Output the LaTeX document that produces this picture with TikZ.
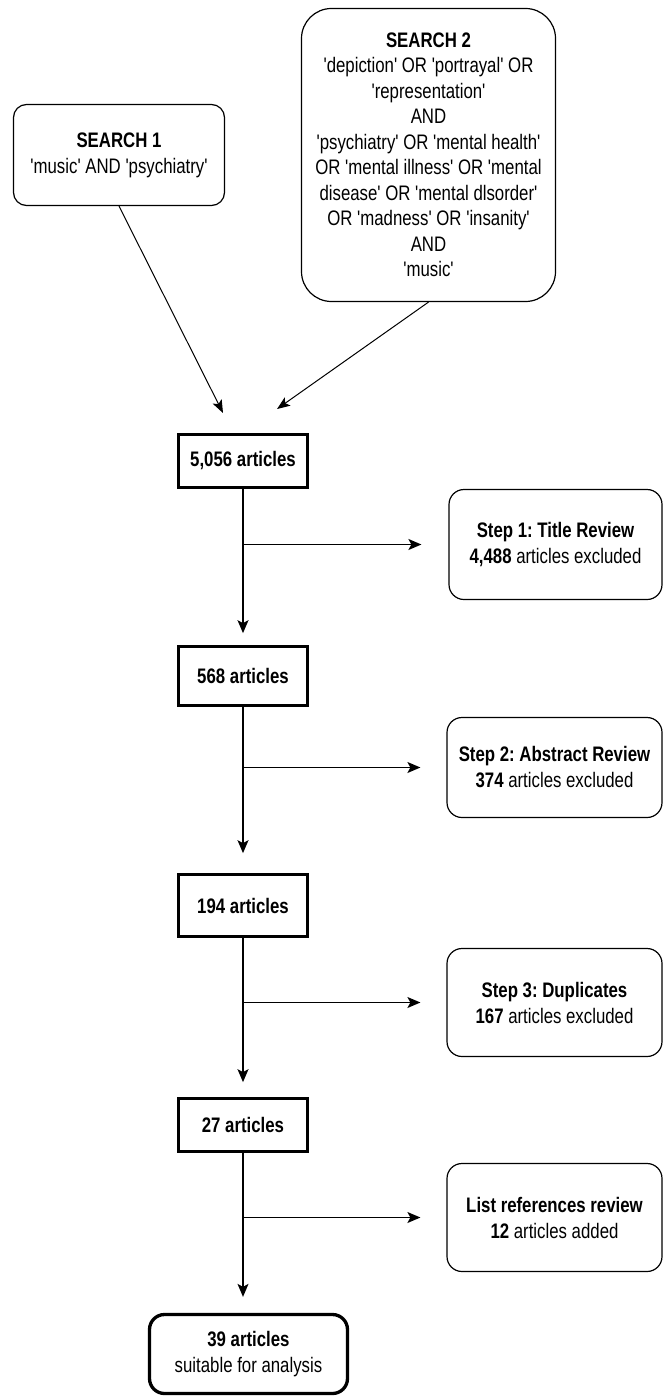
\documentclass[tikz,border=0pt]{standalone}
\usepackage{fontspec}
\setmainfont{Liberation Sans}[FakeStretch=0.8,Ligatures=TeXOff]
\usetikzlibrary{arrows.meta}
\frenchspacing
\begin{document}
\begin{tikzpicture}[x=1pt,y=-1pt,
  every node/.style={inner sep=0pt,align=center,font=\frenchspacing\fontsize{21}{26}\selectfont},
  search/.style={draw,line width=1.2pt,rounded corners=13pt},
  countbox/.style={draw,line width=2.7pt,minimum width=129pt},
  stepbox/.style={draw,line width=1.2pt,rounded corners=15pt,minimum width=213pt},
  finalbox/.style={draw,line width=3.3pt,rounded corners=15pt},
  flow/.style={line width=1.3pt,-{Stealth[length=13pt,width=11pt,inset=3pt]}},
  diag/.style={line width=1pt,-{Stealth[length=13pt,width=10pt,inset=3pt]}}
]
\useasboundingbox (0,0) rectangle (668,1399);

\node[search,minimum width=211pt,minimum height=101pt] (s1) at (119,155)
  {\textbf{SEARCH 1}\\'music' AND 'psychiatry'};
\node[search,rounded corners=30pt,minimum width=254pt,minimum height=293pt,
      font=\frenchspacing\fontsize{21}{25.5}\selectfont] (s2) at (428.5,155)
  {\textbf{SEARCH 2}\\'depiction' OR 'portrayal' OR\\'representation'\\AND\\
   'psychiatry' OR 'mental health'\\OR 'mental illness' OR 'mental\\
   disease' OR 'mental dlsorder'\\OR 'madness' OR 'insanity'\\AND\\'music'};

\node[countbox,minimum height=53pt] (n1) at (243,461) {\textbf{5,056 articles}};
\node[countbox,minimum height=59pt] (n2) at (243,676) {\textbf{568 articles}};
\node[countbox,minimum height=62pt] (n3) at (243,905.5) {\textbf{194 articles}};
\node[countbox,minimum height=53pt] (n4) at (243,1125) {\textbf{27 articles}};
\node[finalbox,minimum width=198pt,minimum height=79pt] (n5) at (248.5,1354)
  {\textbf{39 articles}\\suitable for analysis};

\node[stepbox,minimum height=110pt] (st1) at (555.5,544.5)
  {\textbf{Step 1: Title Review}\\\textbf{4,488} articles excluded};
\node[stepbox,minimum width=215pt,minimum height=100pt] (st2) at (554.5,767.5)
  {\textbf{Step 2: Abstract Review}\\\textbf{374} articles excluded};
\node[stepbox,minimum width=215pt,minimum height=108pt] (st3) at (554.5,1002.5)
  {\textbf{Step 3: Duplicates}\\\textbf{167} articles excluded};
\node[stepbox,minimum width=215pt,minimum height=108pt] (st4) at (554.5,1217.5)
  {\textbf{List references review}\\\textbf{12} articles added};

\coordinate (t1) at (223,413);
\coordinate (t2) at (277,409);
\draw[diag] (s1.south) -- (t1);
\draw[diag] (s2.south) -- (t2);

\draw[flow,shorten >=12pt] (n1.south) -- (n2.north);
\draw[flow,shorten >=20pt] (n2.south) -- (n3.north);
\draw[flow,shorten >=15pt] (n3.south) -- (n4.north);
\draw[flow,shorten >=16pt] (n4.south) -- (n4.south |- n5.north);

\coordinate (b1) at (243,544.5);
\coordinate (b2) at (243,767.5);
\coordinate (b3) at (243,1002.5);
\coordinate (b4) at (243,1217.5);
\draw[flow,shorten >=27pt] (b1) -- (st1.west);
\draw[flow,shorten >=26pt] (b2) -- (st2.west);
\draw[flow,shorten >=26pt] (b3) -- (st3.west);
\draw[flow,shorten >=26pt] (b4) -- (st4.west);
\end{tikzpicture}
\end{document}
